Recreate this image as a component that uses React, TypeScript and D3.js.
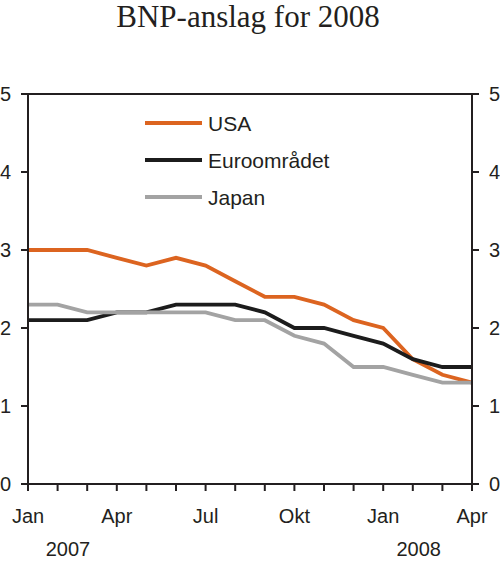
// BNP-anslag for 2008 – line chart drawn with D3 scales in JSX
import * as d3 from 'd3';

const months = [
  'Jan', 'Feb', 'Mar', 'Apr', 'Mai', 'Jun', 'Jul', 'Aug',
  'Sep', 'Okt', 'Nov', 'Des', 'Jan', 'Feb', 'Mar', 'Apr'
];
const labelledMonths = [0, 3, 6, 9, 12, 15];
const years = [
  { label: '2007', at: 1.35 },
  { label: '2008', at: 13.2 }
];

const usa = [3.0, 3.0, 3.0, 2.9, 2.8, 2.9, 2.8, 2.6, 2.4, 2.4, 2.3, 2.1, 2.0, 1.6, 1.4, 1.3];
const euro = [2.1, 2.1, 2.1, 2.2, 2.2, 2.3, 2.3, 2.3, 2.2, 2.0, 2.0, 1.9, 1.8, 1.6, 1.5, 1.5];
const japan = [2.3, 2.3, 2.2, 2.2, 2.2, 2.2, 2.2, 2.1, 2.1, 1.9, 1.8, 1.5, 1.5, 1.4, 1.3, 1.3];

const yTicks = [0, 1, 2, 3, 4, 5];

const series = [
  { name: 'USA', values: usa, color: '#dc6420' },
  { name: 'Euroområdet', values: euro, color: '#1c1c1c' },
  { name: 'Japan', values: japan, color: '#a3a3a3' }
];

const W = 500;
const H = 564;
const margin = { top: 94, right: 28, bottom: 80, left: 28 };
const textColor = '#231f20';
const sans = '"Liberation Sans", Arial, sans-serif';

export default function App() {
  const x = d3.scaleLinear()
    .domain([0, months.length - 1])
    .range([margin.left, W - margin.right]);
  const y = d3.scaleLinear()
    .domain([0, 5])
    .range([H - margin.bottom, margin.top]);

  const line = d3.line<number>()
    .x((_, i) => x(i))
    .y(d => y(d));

  const x0 = x.range()[0];
  const x1 = x.range()[1];
  const yBottom = y(0);
  const yTop = y(5);

  return (
    <svg width={W} height={H} style={{ position: 'absolute', left: 0, top: 0, background: '#fff' }}>
      {/* Title */}
      <text x={248} y={27} textAnchor="middle" fontFamily='"Liberation Serif", "Times New Roman", serif'
        fontSize={31} fill={textColor}>
        BNP-anslag for 2008
      </text>

      {/* Series */}
      {series.map(s => (
        <path key={s.name} d={line(s.values) || ''} fill="none" stroke={s.color}
          strokeWidth={3.8} strokeLinejoin="miter" />
      ))}

      {/* Frame */}
      <rect x={x0} y={yTop} width={x1 - x0} height={yBottom - yTop}
        fill="none" stroke={textColor} strokeWidth={2} />

      {/* Y ticks both sides */}
      {yTicks.map(t => (
        <g key={t}>
          <line x1={x0 - 7} x2={x0} y1={y(t)} y2={y(t)} stroke={textColor} strokeWidth={2} />
          <line x1={x1} x2={x1 + 7} y1={y(t)} y2={y(t)} stroke={textColor} strokeWidth={2} />
          <text x={11} y={y(t) + 7} textAnchor="end" fontFamily={sans} fontSize={20} fill={textColor}>{t}</text>
          <text x={489} y={y(t) + 7} textAnchor="start" fontFamily={sans} fontSize={20} fill={textColor}>{t}</text>
        </g>
      ))}

      {/* X ticks */}
      {months.map((m, i) => (
        <line key={i} x1={x(i)} x2={x(i)} y1={yBottom} y2={yBottom + 7} stroke={textColor} strokeWidth={2} />
      ))}
      {labelledMonths.map(i => (
        <text key={i} x={x(i)} y={523} textAnchor="middle" fontFamily={sans} fontSize={20} fill={textColor}>
          {months[i]}
        </text>
      ))}
      {years.map(yr => (
        <text key={yr.label} x={x(yr.at)} y={556} textAnchor="middle" fontFamily={sans} fontSize={20} fill={textColor}>
          {yr.label}
        </text>
      ))}

      {/* Legend */}
      {series.map((s, i) => {
        const ly = 123 + i * 37;
        return (
          <g key={s.name}>
            <line x1={145} x2={202} y1={ly} y2={ly} stroke={s.color} strokeWidth={4} />
            <text x={208} y={ly + 7.5} fontFamily={sans} fontSize={21} fill={textColor}>{s.name}</text>
          </g>
        );
      })}
    </svg>
  );
}
